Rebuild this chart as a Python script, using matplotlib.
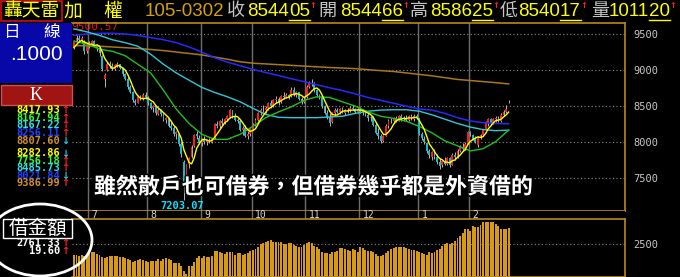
import matplotlib
matplotlib.use("Agg")
import matplotlib.pyplot as plt
from matplotlib.patches import Rectangle, Ellipse
from matplotlib.lines import Line2D
import matplotlib.patheffects as pe

# ---------------- data ----------------
opens = [9310, 9390, 9450, 9410, 9400, 9260,
         9330, 9350, 9400, 9340, 9300, 9200, 8880, 9000, 9080, 9060, 9020, 9070, 9080, 9030, 8940, 8880, 8760, 8690, 8570, 8550, 8620, 8600, 8660,
         8620, 8540, 8480, 8500, 8390, 8440, 8390, 8310, 8330, 8230, 8200, 8110, 8120, 7980, 7720, 7450, 7700, 7790, 7950, 8120, 8060,
         7990, 8040, 8000, 8020, 8010, 8060, 8250, 8230, 8290, 8270, 8320, 8350, 8440, 8370, 8310, 8290, 8170, 8200, 8090, 8110,
         8180, 8240, 8310, 8400, 8450, 8440, 8480, 8540, 8500, 8580, 8600, 8560, 8640, 8630, 8660, 8640, 8730, 8650, 8690, 8600, 8560,
         8620, 8770, 8820, 8810, 8720, 8650, 8620, 8500, 8410, 8350, 8280, 8400, 8450, 8420, 8460, 8410, 8440, 8430, 8480, 8460, 8420,
         8450, 8420, 8440, 8380, 8330, 8350, 8240, 8130, 8080, 8020, 8090, 8230, 8300, 8290, 8340, 8300, 8360, 8320, 8340, 8310, 8370, 8320, 8370,
         8340, 8110, 8050, 7990, 7880, 7800, 7860, 7790, 7730, 7680, 7740, 7700, 7780, 7690, 7820, 7790, 7880, 7930, 7900, 7980,
         8140, 8100, 8050, 7960, 8060, 8100, 8180, 8270, 8320, 8260, 8320, 8340, 8290, 8380, 8420, 8544.66]
highs = [9420, 9500.57, 9480, 9470, 9420, 9340,
         9400, 9420, 9410, 9360, 9330, 9210, 8960, 9110, 9120, 9100, 9080, 9110, 9090, 9040, 8960, 8900, 8790, 8710, 8600, 8650, 8660, 8680, 8690,
         8640, 8560, 8520, 8510, 8470, 8460, 8400, 8350, 8340, 8280, 8220, 8160, 8130, 8000, 7760, 7700, 7800, 7960, 8120, 8160, 8100,
         8060, 8080, 8050, 8060, 8060, 8270, 8300, 8310, 8340, 8330, 8380, 8460, 8450, 8410, 8340, 8310, 8220, 8240, 8150, 8200,
         8260, 8330, 8420, 8470, 8510, 8500, 8560, 8590, 8600, 8640, 8620, 8660, 8690, 8680, 8670, 8760, 8760, 8710, 8700, 8620, 8620,
         8790, 8850, 8880, 8830, 8740, 8670, 8630, 8510, 8450, 8400, 8420, 8470, 8470, 8480, 8490, 8460, 8480, 8500, 8520, 8480, 8470,
         8490, 8460, 8450, 8400, 8370, 8360, 8260, 8200, 8120, 8100, 8250, 8320, 8330, 8350, 8360, 8380, 8390, 8370, 8380, 8380, 8390, 8390, 8390,
         8340, 8140, 8080, 8000, 7900, 7880, 7900, 7830, 7780, 7760, 7790, 7800, 7800, 7850, 7870, 7900, 7960, 7990, 8000, 8150,
         8160, 8110, 8080, 8080, 8120, 8190, 8290, 8340, 8340, 8340, 8360, 8370, 8400, 8450, 8520, 8586.25]
lows = [9290, 9370, 9390, 9380, 9220, 9240,
        9300, 9330, 9330, 9270, 9200, 8990, 8770, 8980, 9030, 9000, 9000, 9040, 9010, 8920, 8860, 8740, 8680, 8560, 8520, 8540, 8580, 8590, 8600,
        8520, 8460, 8420, 8380, 8380, 8370, 8290, 8260, 8210, 8170, 8090, 8040, 7950, 7800, 7203.07, 7420, 7640, 7780, 7940, 8050, 7970,
        7950, 7980, 7960, 7990, 7990, 8050, 8200, 8200, 8240, 8250, 8290, 8340, 8340, 8290, 8270, 8150, 8100, 8070, 8040, 8090,
        8170, 8230, 8300, 8380, 8420, 8410, 8450, 8480, 8490, 8550, 8520, 8550, 8600, 8610, 8600, 8630, 8640, 8620, 8580, 8530, 8540,
        8610, 8750, 8780, 8700, 8630, 8600, 8480, 8390, 8320, 8220, 8270, 8380, 8400, 8390, 8400, 8380, 8410, 8420, 8440, 8400, 8410,
        8400, 8380, 8360, 8300, 8300, 8220, 8110, 8050, 7985, 8000, 8080, 8200, 8260, 8270, 8280, 8290, 8300, 8290, 8300, 8300, 8310, 8300, 8320,
        8100, 8030, 7980, 7850, 7780, 7760, 7770, 7700, 7630, 7660, 7680, 7690, 7660, 7680, 7760, 7780, 7860, 7880, 7890, 7970,
        8090, 8030, 7990, 7940, 8040, 8080, 8170, 8230, 8240, 8250, 8280, 8280, 8280, 8370, 8410, 8540.17]
closes = [9390, 9450, 9410, 9440, 9260, 9320,
          9370, 9400, 9350, 9300, 9230, 9010, 8930, 9090, 9060, 9020, 9070, 9090, 9030, 8940, 8880, 8760, 8700, 8580, 8540, 8630, 8600, 8660, 8620,
          8540, 8480, 8500, 8400, 8450, 8390, 8310, 8330, 8230, 8200, 8110, 8140, 7980, 7830, 7410, 7680, 7780, 7940, 8100, 8080, 7990,
          8040, 8000, 8030, 8010, 8050, 8250, 8230, 8290, 8270, 8320, 8360, 8440, 8370, 8310, 8290, 8170, 8200, 8090, 8110, 8180,
          8240, 8310, 8400, 8450, 8440, 8480, 8540, 8500, 8580, 8600, 8550, 8640, 8630, 8660, 8630, 8730, 8660, 8690, 8600, 8560, 8590,
          8770, 8820, 8800, 8720, 8650, 8620, 8500, 8410, 8350, 8270, 8400, 8450, 8420, 8460, 8410, 8440, 8430, 8480, 8460, 8420, 8450,
          8420, 8440, 8380, 8330, 8350, 8240, 8130, 8080, 8020, 8080, 8230, 8300, 8290, 8340, 8300, 8360, 8320, 8340, 8310, 8370, 8330, 8370, 8340,
          8114, 8060, 8000, 7880, 7820, 7860, 7790, 7730, 7670, 7740, 7700, 7780, 7680, 7820, 7790, 7880, 7930, 7900, 7980, 8140,
          8110, 8050, 8010, 8060, 8100, 8170, 8270, 8320, 8260, 8320, 8340, 8290, 8380, 8420, 8460, 8544.05]

# securities borrowing amount (借金額)
borrow = [2320, 2330, 2300, 2320, 2310, 2325, 2350, 2370, 2365, 2340,
          2325, 2290, 2270, 2285, 2305, 2305, 2305, 2305, 2285, 2295,
          2275, 2255, 2245, 2210, 2230, 2245, 2255, 2245, 2235, 2215,
          2225, 2220, 2235, 2255, 2235, 2265, 2270, 2265, 2245, 2200,
          2190, 2190, 2140, 2060, 2020, 2140, 2150, 2210, 2270, 2300,
          2280, 2310, 2290, 2290, 2300, 2395, 2390, 2365, 2350, 2340,
          2375, 2375, 2365, 2325, 2350, 2360, 2325, 2340, 2350, 2395,
          2405, 2425, 2460, 2495, 2510, 2530, 2555, 2560, 2530, 2525,
          2525, 2525, 2500, 2500, 2510, 2520, 2490, 2465, 2455, 2455,
          2480, 2510, 2525, 2520, 2465, 2445, 2415, 2370, 2355, 2350,
          2340, 2375, 2375, 2390, 2430, 2430, 2415, 2405, 2395, 2415,
          2405, 2370, 2455, 2430, 2405, 2395, 2395, 2370, 2340, 2310,
          2310, 2330, 2360, 2390, 2425, 2440, 2455, 2445, 2455, 2445,
          2435, 2415, 2405, 2405, 2395, 2370, 2350, 2335, 2325, 2375,
          2350, 2375, 2405, 2425, 2470, 2500, 2510, 2495, 2510, 2545,
          2590, 2630, 2670, 2735, 2735, 2713, 2790, 2767, 2777, 2804,
          2857, 2850, 2850, 2857, 2857, 2820, 2790, 2745, 2735, 2741.73, 2761.33]

# 5-day average (yellow), one value per day
ma5 = [9310, 9350, 9390, 9410, 9390, 9376, 9360, 9358, 9340, 9348,
       9330, 9258, 9164, 9112, 9064, 9022, 9034, 9066, 9054, 9030,
       9002, 8940, 8862, 8772, 8692, 8642, 8610, 8602, 8610, 8610,
       8580, 8560, 8508, 8474, 8444, 8410, 8376, 8342, 8292, 8236,
       8202, 8132, 8052, 7894, 7808, 7720, 7700, 7782, 7916, 7978,
       8030, 8042, 8028, 8014, 8026, 8068, 8114, 8166, 8218, 8272,
       8294, 8336, 8352, 8360, 8354, 8316, 8268, 8212, 8172, 8150,
       8164, 8186, 8248, 8316, 8368, 8416, 8462, 8482, 8508, 8540,
       8554, 8574, 8600, 8616, 8622, 8658, 8662, 8674, 8662, 8648,
       8620, 8642, 8668, 8708, 8740, 8752, 8722, 8658, 8580, 8506,
       8430, 8386, 8376, 8378, 8400, 8428, 8436, 8432, 8444, 8444,
       8446, 8448, 8446, 8438, 8422, 8404, 8384, 8348, 8286, 8226,
       8164, 8110, 8108, 8142, 8184, 8248, 8292, 8318, 8322, 8332,
       8326, 8340, 8334, 8344, 8344, 8305, 8243, 8177, 8079, 7975,
       7924, 7870, 7816, 7774, 7758, 7726, 7724, 7714, 7744, 7754,
       7790, 7820, 7864, 7896, 7966, 8012, 8036, 8058, 8074, 8066,
       8078, 8122, 8184, 8224, 8268, 8302, 8306, 8318, 8350, 8378, 8417.93]

# slower averages, one reading every 5 trading days
ma_slow_idx = list(range(0, 171, 5))
ma20 = [9400, 9360, 9290, 9260, 9200, 9080, 8960, 8720, 8460, 8260,
        8110, 8040, 8040, 8110, 8220, 8340, 8420, 8490, 8580, 8630,
        8620, 8560, 8500, 8420, 8360, 8330, 8290, 8220, 8130, 8020,
        7950, 7880, 7910, 8010, 8167.94]
ma60 = [9570, 9530, 9480, 9420, 9380, 9330, 9220, 9080, 8960, 8860,
        8760, 8690, 8630, 8560, 8470, 8385, 8345, 8340, 8340, 8340,
        8350, 8360, 8400, 8430, 8445, 8450, 8450, 8430, 8380, 8320,
        8260, 8210, 8175, 8160, 8167.22]
ma120 = [9480, 9500, 9510, 9510, 9500, 9480, 9450, 9420, 9380, 9320,
         9250, 9170, 9110, 9060, 9010, 8965, 8925, 8880, 8840, 8795,
         8755, 8715, 8670, 8620, 8580, 8540, 8500, 8460, 8445, 8400,
         8340, 8295, 8270, 8260, 8256.11]
ma240 = [9340, 9335, 9330, 9320, 9310, 9300, 9285, 9270, 9250, 9230,
         9210, 9180, 9150, 9115, 9095, 9085, 9075, 9065, 9055, 9045,
         9035, 9028, 9020, 9005, 8992, 8980, 8960, 8940, 8920, 8895,
         8870, 8855, 8840, 8825, 8807.60]

month_labels = ['7', '8', '9', '10', '11', '12', '1', '2']
month_start = [6, 29, 50, 70, 91, 112, 135, 155]
price_ticks = [9500, 9000, 8500, 8000, 7500]
borrow_ticks = [2500]

ma_now = ['8417.93', '8167.94', '8167.22', '8256.11', '8807.60']
ma_now_up = [True, True, True, True, False]
ma_prev = ['8282.86', '7756.18', '8485.73', '8021.84', '9386.99']
ma_prev_up = [False, True, True, False, True]

quote_date = '105-0302'
quote_names = ['收', '開', '高', '低', '量']
quote_values = ['8544.05', '8544.66', '8586.25', '8540.17', '1011.20']
caption = '雖然散戶也可借券，但借券幾乎都是外資借的'

# ---------------- styling ----------------
W, H = 680, 277
GOLD = '#b88a1c'
C_YEL = '#ffff00'
C_GRN = '#20c020'
C_CYN = '#30c8d8'
C_BLU = '#2828ff'
C_ORG = '#a8781a'
UP = '#ff1a1a'
DOWN = '#18b8cc'
CJK = ['Noto Sans CJK TC', 'DejaVu Sans']
NUMF = ['Liberation Sans', 'DejaVu Sans']
MONO = ['DejaVu Sans Mono']

fig = plt.figure(figsize=(W / 100, H / 100), dpi=100, facecolor='black')


def fx(x):
    return x / W


def fy(y):
    return 1 - y / H


L, R = 72, 625
ax = fig.add_axes([fx(L), fy(211), fx(R) - fx(L), fy(23) - fy(211)])
axl = fig.add_axes([fx(L), fy(219), fx(R) - fx(L), fy(211) - fy(219)], sharex=ax)
axv = fig.add_axes([fx(L), fy(277), fx(R) - fx(L), fy(219) - fy(277)], sharex=ax)

for a in (ax, axl, axv):
    a.set_facecolor('black')
    for s in a.spines.values():
        s.set_visible(False)
    a.tick_params(axis='x', bottom=False, labelbottom=False)

for a in (ax, axv):
    for side in ('top', 'right', 'bottom'):
        a.spines[side].set_visible(True)
        a.spines[side].set_color(GOLD)
        a.spines[side].set_linewidth(1.2)

n = len(closes)
xs = list(range(n))
ax.set_xlim(-0.76, 215.5)
ax.set_ylim(7047, 9652)
axv.set_ylim(1971, 2901)
axl.set_ylim(0, 1)
axl.set_yticks([])

# grid
for v in price_ticks:
    ax.axhline(v, color='#8c8c8c', lw=0.8, ls=(0, (1, 2.2)), zorder=0.5)
for v in borrow_ticks:
    axv.axhline(v, color='#8c8c8c', lw=0.8, ls=(0, (1, 2.2)), zorder=0.5)
for s in month_start:
    ax.axvline(s - 0.5, color='#6e6e6e', lw=1.0, zorder=0.6)
    axl.axvline(s - 0.5, color='#6e6e6e', lw=1.0, zorder=0.6)
for s, lab in zip(month_start, month_labels):
    axl.annotate(lab, (s - 0.5, 0.5), xycoords=('data', 'axes fraction'),
                 xytext=(2.6, 0), textcoords='offset points', ha='left', va='center',
                 color='#d8d8d8', fontsize=7, family=MONO, annotation_clip=False)

# y tick labels on the right
ax.set_yticks(price_ticks)
ax.set_yticklabels([str(v) for v in price_ticks])
axv.set_yticks(borrow_ticks)
axv.set_yticklabels([str(v) for v in borrow_ticks])
for a in (ax, axv):
    a.tick_params(axis='y', left=False, labelleft=False, right=True, labelright=True,
                  length=0, pad=5.8, labelcolor='#c8c8c8', labelsize=7.5)
    for t in a.get_yticklabels():
        t.set_family(MONO)

# candles
body_bottom = [min(o, c) for o, c in zip(opens, closes)]
body_height = [max(abs(c - o), 6) for o, c in zip(opens, closes)]
body_color = [UP if c > o else (DOWN if c < o else '#e0e0e0') for o, c in zip(opens, closes)]
ax.vlines(xs, lows, highs, colors='#b4b4b4', lw=0.7, zorder=2)
ax.bar(xs, body_height, bottom=body_bottom, width=0.72, color=body_color, linewidth=0, zorder=3)

# moving averages
ax.plot(ma_slow_idx, ma240, color=C_ORG, lw=1.1, zorder=4)
ax.plot(ma_slow_idx, ma120, color=C_BLU, lw=1.1, zorder=4)
ax.plot(ma_slow_idx, ma60, color=C_CYN, lw=1.0, zorder=4)
ax.plot(ma_slow_idx, ma20, color=C_GRN, lw=1.0, zorder=4)
ax.plot(xs, ma5, color=C_YEL, lw=1.0, zorder=5)

# high / low labels
i_hi = highs.index(max(highs))
i_lo = lows.index(min(lows))
ax.annotate(f'{max(highs):.2f}', (i_hi, max(highs)), xytext=(-4, 5), textcoords='offset points',
            ha='left', va='center', color='#e01818', fontsize=8, family=MONO, zorder=1,
            annotation_clip=False)
ax.annotate(f'{min(lows):.2f}', (i_lo, min(lows)), xytext=(-1.5, -4.2), textcoords='offset points',
            ha='center', va='center', color='#10e0ff', fontsize=7.5, family=MONO,
            weight='bold', zorder=6)

# borrow amount bars
axv.bar(xs, borrow, width=0.76, color='#d69a14', linewidth=0, zorder=2)

# caption
fig.text(fx(314), fy(187), caption, color='white', fontsize=15.8, family=CJK, weight='bold',
         ha='center', va='center', zorder=20,
         path_effects=[pe.withStroke(linewidth=2.2, foreground='black')])

# ---------------- header ----------------
renderer = fig.canvas.get_renderer()
fig.add_artist(Rectangle((fx(1), fy(21)), fx(62) - fx(1), fy(1) - fy(21), transform=fig.transFigure,
                         fill=False, edgecolor='#d01010', lw=1.2))
fig.text(fx(31.5), fy(11), '轟天雷', color=C_YEL, fontsize=13.5, family=CJK, ha='center', va='center')
fig.text(fx(73), fy(11), '加', color=C_YEL, fontsize=13.5, family=CJK, ha='center', va='center')
fig.text(fx(113), fy(11), '權', color=C_YEL, fontsize=13.5, family=CJK, ha='center', va='center')
fig.text(fx(145), fy(11.5), quote_date, color='#d4a010', fontsize=13.5, family=NUMF, ha='left', va='center')

for name, val, xn, xv in zip(quote_names, quote_values,
                             [236, 327.5, 418.5, 508.5, 600], [247, 340, 430, 518, 609]):
    fig.text(fx(xn), fy(11), name, color='#c4c4c4', fontsize=13, family=CJK, ha='center', va='center')
    ip, dp = val.split('.')
    t1 = fig.text(fx(xv), fy(11.5), ip, color=C_YEL, fontsize=13.5, family=NUMF, ha='left', va='center')
    bb1 = t1.get_window_extent(renderer)
    t2 = fig.text(bb1.x1 / W, fy(11.5), dp, color=C_YEL, fontsize=13.5, family=NUMF, ha='left', va='center')
    bb2 = t2.get_window_extent(renderer)
    fig.add_artist(Line2D([bb2.x0 / W, bb2.x1 / W], [fy(20.3), fy(20.3)], color=C_YEL, lw=1.0,
                          transform=fig.transFigure))
    fig.text((bb2.x1 + 3) / W, fy(6), '↑', color='#ff2020', fontsize=6, weight='bold',
             ha='center', va='center')

# ---------------- left panel ----------------
fig.add_artist(Rectangle((0, fy(83)), fx(72), fy(23) - fy(83), transform=fig.transFigure,
                         facecolor='#0808a8', edgecolor='none'))
fig.text(fx(11), fy(33), '日', color='white', fontsize=12, family=CJK, ha='center', va='center')
fig.text(fx(52), fy(33), '線', color='white', fontsize=12, family=CJK, ha='center', va='center')
fig.text(fx(36), fy(54), '.1000', color='white', fontsize=15, family=NUMF, ha='center', va='center')
fig.add_artist(Rectangle((fx(0.5), fy(105)), fx(71), fy(85) - fy(105), transform=fig.transFigure,
                         facecolor='#a01414', edgecolor='#d05050', lw=1))
fig.text(fx(36), fy(95.5), 'K', color='white', fontsize=13, family=['Liberation Serif'],
         ha='center', va='center')

ma_cols = [C_YEL, '#30ff30', '#30e0e0', '#2040ff', '#d09030']
for k, (txt, up) in enumerate(zip(ma_now, ma_now_up)):
    yy = 110 + 7.7 * k
    fig.text(fx(60.5), fy(yy), txt, color=ma_cols[k], fontsize=7.5, family=MONO, weight='bold',
             ha='right', va='center')
    fig.text(fx(65.5), fy(yy), '↑' if up else '↓', color='#ff2020' if up else '#20d0e0',
             fontsize=7, weight='bold', ha='center', va='center')
for k, (txt, up) in enumerate(zip(ma_prev, ma_prev_up)):
    yy = 153.5 + 7.4 * k
    fig.text(fx(60.5), fy(yy), txt, color=ma_cols[k], fontsize=7.5, family=MONO, weight='bold',
             ha='right', va='center')
    fig.text(fx(65.5), fy(yy), '↑' if up else '↓', color='#ff2020' if up else '#20d0e0',
             fontsize=7, weight='bold', ha='center', va='center')

# borrow amount box
fig.add_artist(Rectangle((fx(3), fy(238)), fx(69), fy(219) - fy(238), transform=fig.transFigure,
                         facecolor='black', edgecolor='white', lw=1))
fig.text(fx(37.5), fy(228.5), '借金額', color='white', fontsize=14, family=CJK, ha='center', va='center')
fig.text(fx(60.5), fy(243.5), f'{borrow[-1]:.2f}', color='white', fontsize=7.5, family=MONO,
         weight='bold', ha='right', va='center')
fig.text(fx(65.5), fy(243.5), '↑', color='#ff2020', fontsize=7, weight='bold', ha='center', va='center')
fig.text(fx(60.5), fy(251.5), f'{borrow[-1] - borrow[-2]:.2f}', color='white', fontsize=7.5,
         family=MONO, weight='bold', ha='right', va='center')
fig.text(fx(65.5), fy(251.5), '↑', color='#ff2020', fontsize=7, weight='bold', ha='center', va='center')

fig.add_artist(Ellipse((fx(40), fy(240)), width=fx(104), height=72 / H, transform=fig.transFigure,
                       fill=False, edgecolor='white', lw=2, zorder=30))

fig.savefig('out.png', dpi=100, facecolor='black')
